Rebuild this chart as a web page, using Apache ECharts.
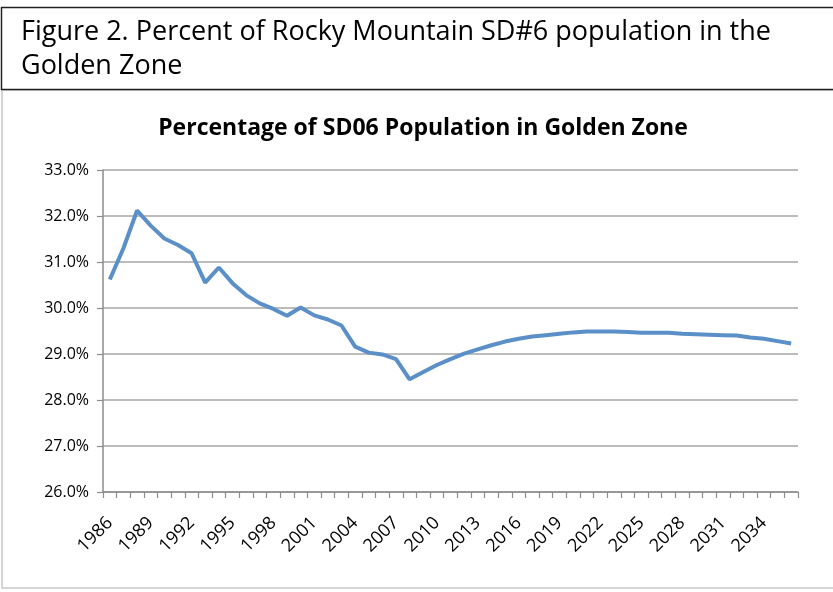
<!DOCTYPE html>
<html>
<head>
<meta charset="utf-8">
<script src="https://cdn.jsdelivr.net/npm/echarts@6/dist/echarts.min.js"></script>
<style>
  html, body { margin: 0; padding: 0; background: #fff; }
  #chart { width: 833px; height: 592px; }
</style>
</head>
<body>
<div id="chart"></div>
<script>
// years 1986..2036
const years = []
for (let y = 1986; y <= 2036; y++) years.push(String(y))

// share of SD06 population in the golden zone (%)
const goldenPct = [
  30.62, 31.30, 32.12, 31.79, 31.51, 31.37, 31.19, 30.55, 30.88, 30.54,
  30.28, 30.10, 29.98, 29.83, 30.01, 29.84, 29.75, 29.62, 29.16, 29.03,
  28.99, 28.89, 28.45, 28.61, 28.76, 28.89, 29.01, 29.10, 29.19, 29.27,
  29.33, 29.38, 29.41, 29.44, 29.47, 29.49, 29.49, 29.49, 29.48, 29.46,
  29.46, 29.46, 29.44, 29.43, 29.42, 29.41, 29.40, 29.36, 29.33, 29.28,
  29.23,
]

const yTicks = [26, 27, 28, 29, 30, 31, 32, 33]

const chart = echarts.init(document.getElementById('chart'))

const option = {
  backgroundColor: '#fff',
  animation: false,
  title: {
    text: 'Percentage of SD06 Population in Golden Zone',
    left: 418,
    top: 112,
    textAlign: 'center',
    textStyle: {
      fontFamily: 'Open Sans',
      fontWeight: 'bold',
      fontSize: 23,
      color: '#000',
    },
  },
  graphic: [
    // light frame around chart area
    {
      type: 'rect',
      shape: { x: 2, y: 90, width: 840, height: 498 },
      style: { fill: 'none', stroke: '#c8c8c8', lineWidth: 1.5 },
      silent: true,
    },
    // caption box
    {
      type: 'rect',
      shape: { x: 1.5, y: 7.5, width: 840, height: 82 },
      style: { fill: '#fff', stroke: '#222', lineWidth: 1.5 },
      silent: true,
    },
    {
      type: 'text',
      left: 21,
      top: 15,
      style: {
        text: 'Figure 2. Percent of Rocky Mountain SD#6 population in the\nGolden Zone',
        fontFamily: 'Open Sans',
        fontSize: 27,
        lineHeight: 34,
        fill: '#000',
      },
    },
  ],
  grid: {
    left: 103,
    right: 35,
    top: 170,
    bottom: 100,
  },
  xAxis: {
    type: 'category',
    data: years,
    boundaryGap: true,
    axisLine: { lineStyle: { color: '#8c8c8c', width: 1.5 } },
    axisTick: {
      show: true,
      interval: 0,
      length: 6,
      lineStyle: { color: '#8c8c8c', width: 1.2 },
    },
    axisLabel: {
      interval: 2,
      rotate: 45,
      margin: 28,
      fontFamily: 'Open Sans',
      fontSize: 18,
      color: '#000',
    },
  },
  yAxis: {
    type: 'value',
    min: yTicks[0],
    max: yTicks[yTicks.length - 1],
    interval: 1,
    axisLine: { show: true, lineStyle: { color: '#8c8c8c', width: 1.5 } },
    axisTick: { show: true, length: 6, lineStyle: { color: '#8c8c8c', width: 1.2 } },
    splitLine: { lineStyle: { color: '#a6a6a6', width: 1.5 } },
    axisLabel: {
      margin: 14,
      fontFamily: 'Open Sans',
      fontSize: 16,
      color: '#000',
      formatter: v => v.toFixed(1) + '%',
    },
  },
  series: [
    {
      type: 'line',
      data: goldenPct,
      showSymbol: false,
      lineStyle: { color: '#5a8fc8', width: 4 },
    },
  ],
}

chart.setOption(option)
</script>
</body>
</html>
